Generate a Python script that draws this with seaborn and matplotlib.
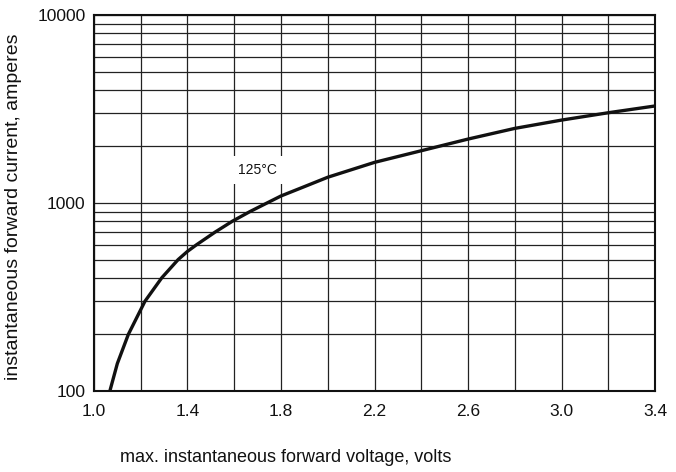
import matplotlib
matplotlib.use("Agg")
import matplotlib.pyplot as plt
import seaborn as sns
import pandas as pd
from matplotlib.ticker import FixedLocator, NullFormatter

sns.set_theme(style="white")
plt.rcParams['font.family'] = ['Liberation Sans', 'DejaVu Sans']

voltage = [1.068, 1.1, 1.147, 1.218, 1.29, 1.36, 1.4, 1.439, 1.518, 1.592, 1.667,
           1.74, 1.8, 1.9, 2.0, 2.2, 2.4, 2.6, 2.8, 3.0, 3.2, 3.4]
current = [100, 140, 200, 300, 400, 500, 553, 600, 700, 800, 900,
           1000, 1090, 1222, 1371, 1645, 1897, 2188, 2494, 2761, 3021, 3282]
x_ticks = [1.0, 1.4, 1.8, 2.2, 2.6, 3.0, 3.4]
x_grid = [1.0, 1.2, 1.4, 1.6, 1.8, 2.0, 2.2, 2.4, 2.6, 2.8, 3.0, 3.2, 3.4]
y_ticks = [100, 1000, 10000]
y_minor = [200, 300, 400, 500, 600, 700, 800, 900, 2000, 3000, 4000, 5000, 6000, 7000, 8000, 9000]
curve_label = "125°C"

df = pd.DataFrame({"V": voltage, "I": current})

fig = plt.figure(figsize=(6.76, 4.72), dpi=100)
ax = fig.add_axes([0.139, 0.1716, 0.830, 0.7966])

ax.set_yscale("log")
ax.set_xlim(1.0, 3.4)
ax.set_ylim(100, 10000)

for x in x_grid:
    ax.axvline(x, color="#222222", lw=0.9, zorder=1)
for y in y_minor + y_ticks:
    ax.axhline(y, color="#222222", lw=0.9, zorder=1)

sns.lineplot(data=df, x="V", y="I", ax=ax, color="#111111", lw=2.4, zorder=3)

ax.text(1.70, 1500, curve_label, fontsize=10, ha="center", va="center",
        color="#111111", zorder=4,
        bbox=dict(facecolor="white", edgecolor="none", pad=5))

ax.xaxis.set_major_locator(FixedLocator(x_ticks))
ax.xaxis.set_minor_locator(FixedLocator(x_grid))
ax.set_xticklabels([f"{v:.1f}" for v in x_ticks])
ax.yaxis.set_major_locator(FixedLocator(y_ticks))
ax.yaxis.set_minor_locator(FixedLocator([]))
ax.yaxis.set_minor_formatter(NullFormatter())
ax.set_yticklabels([str(v) for v in y_ticks])

ax.tick_params(axis="both", which="major", labelsize=12.5, colors="#111111",
               direction="inout", length=6, width=1.2, pad=6)
ax.tick_params(axis="x", which="minor", direction="inout", length=5, width=1.2)
ax.tick_params(axis="y", which="major", pad=3)

for s in ax.spines.values():
    s.set_color("#111111")
    s.set_linewidth(1.5)

ax.set_xlabel("max. instantaneous forward voltage, volts", fontsize=13,
              color="#111111")
ax.xaxis.set_label_coords(0.047, -0.155)
ax.xaxis.label.set_ha("left")
ax.set_ylabel("instantaneous forward current, amperes", fontsize=14,
              color="#111111")
ax.yaxis.set_label_coords(-0.128, 0.49)

fig.savefig("out.png", dpi=100)
